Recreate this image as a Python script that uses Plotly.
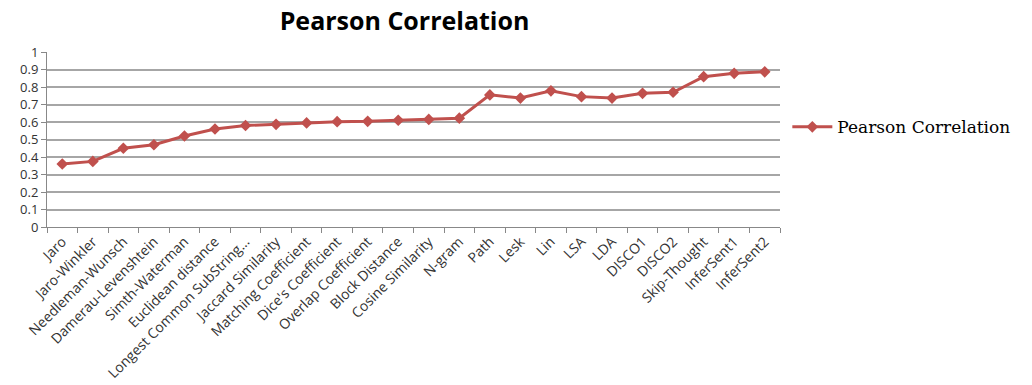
import plotly.graph_objects as go

categories = ["Jaro", "Jaro-Winkler", "Needleman-Wunsch", "Damerau-Levenshtein", "Simth-Waterman",
              "Euclidean distance", "Longest Common SubString...", "Jaccard Similarity",
              "Matching Coefficient", "Dice's Coefficient", "Overlap Coefficient", "Block Distance",
              "Cosine Similarity", "N-gram", "Path", "Lesk", "Lin", "LSA", "LDA", "DISCO1", "DISCO2",
              "Skip-Thought", "InferSent1", "InferSent2"]
pearson = [0.36, 0.375, 0.45, 0.47, 0.52, 0.56, 0.58, 0.587, 0.595, 0.602, 0.604, 0.61,
           0.615, 0.622, 0.755, 0.737, 0.778, 0.745, 0.737, 0.764, 0.77, 0.859, 0.878, 0.887]
y_ticks = [0, 0.1, 0.2, 0.3, 0.4, 0.5, 0.6, 0.7, 0.8, 0.9, 1]
y_tick_text = ["0", "0.1", "0.2", "0.3", "0.4", "0.5", "0.6", "0.7", "0.8", "0.9", "1"]

red = "#C0504D"
fig = go.Figure()
fig.add_trace(go.Scatter(
    x=categories, y=pearson, mode="lines+markers", name="Pearson Correlation",
    line=dict(color=red, width=3),
    marker=dict(symbol="diamond", size=9, color=red),
))

fig.update_layout(
    width=1032, height=385,
    paper_bgcolor="white", plot_bgcolor="white",
    margin=dict(l=47, r=252, t=52, b=158),
    title=dict(text="<b>Pearson Correlation</b>", x=0.392, xanchor="center", y=0.945, yanchor="middle",
               font=dict(family="Open Sans", size=25, color="black")),
    showlegend=True,
    legend=dict(x=1.01, xanchor="left", y=0.57, yanchor="middle", itemwidth=40,
                font=dict(family="DejaVu Serif", size=17, color="black"),
                bgcolor="rgba(0,0,0,0)"),
    xaxis=dict(
        type="category", tickangle=-45, showgrid=False, automargin=False,
        showline=True, linecolor="#888888", linewidth=1,
        ticks="outside", ticklen=5, tickcolor="#888888", tickson="boundaries",
        tickfont=dict(family="Open Sans", size=14, color="#333333"),
        range=[-0.5, len(categories) - 0.5],
    ),
    yaxis=dict(
        range=[0, 1], tickvals=y_ticks, ticktext=y_tick_text, automargin=False,
        showgrid=True, gridcolor="#A6A6A6", gridwidth=1.5,
        showline=True, linecolor="#888888", linewidth=1,
        ticks="outside", ticklen=5, tickcolor="#888888",
        tickfont=dict(family="Open Sans", size=13, color="#333333"),
        zeroline=False,
    ),
)

fig.write_html("out.html")
